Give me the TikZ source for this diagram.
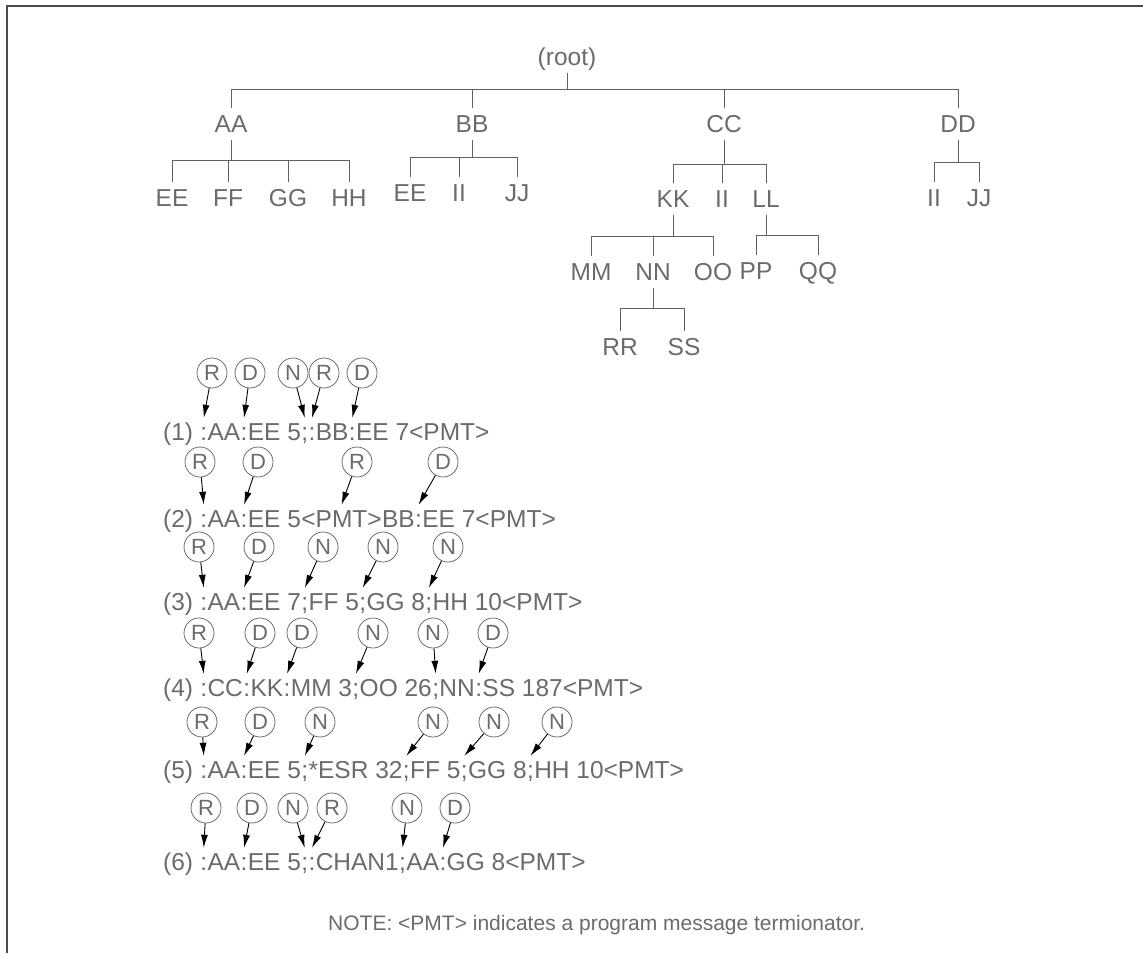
\documentclass[tikz,border=0pt]{standalone}
\usepackage{fontspec}
\setmainfont{Liberation Sans}
\usepackage{tikz}
\usetikzlibrary{positioning,arrows.meta}
\definecolor{inkgray}{gray}{0.42}
\definecolor{linegray}{gray}{0.38}
\definecolor{framegray}{gray}{0.3}

\tikzset{
  leaf/.style={inner xsep=0pt, inner ysep=7pt, text height=17pt, text depth=0pt, text=inkgray, font=\fontsize{24.5}{26}\selectfont},
  txt/.style={inner sep=0pt, text height=22pt, text depth=0pt, text=inkgray, font=\fontsize{24.5}{26}\selectfont},
  ring/.style={circle, draw=inkgray, line width=0.8pt, minimum size=30pt, inner sep=0pt, text=inkgray, font=\fontsize{22}{22}\selectfont},
  tree/.style={draw=linegray, line width=1pt},
  arr/.style={draw=black, line width=0.9pt, -{Latex[length=13pt,width=7pt]}},
}

\begin{document}
\begin{tikzpicture}[x=1pt, y=-1pt]
\useasboundingbox (0,0) rectangle (1143,953);
\draw[framegray, line width=1.2pt] (7,953) -- (7,6) -- (1143,6);

% command tree
\node[leaf] (0) at (567,57) {(root)};
\node[leaf] (1) at (231,124) {AA};
\node[leaf] (2) at (472,124) {BB};
\node[leaf] (3) at (724,124) {CC};
\node[leaf] (4) at (958,124) {DD};
\node[leaf] (5) at (172,198) {EE};
\node[leaf] (6) at (228,198) {FF};
\node[leaf] (7) at (288,198) {GG};
\node[leaf] (8) at (349,198) {HH};
\node[leaf] (9) at (410,193) {EE};
\node[leaf] (10) at (459,193) {II};
\node[leaf] (11) at (517,193) {JJ};
\node[leaf] (12) at (673,199) {KK};
\node[leaf] (13) at (722,199) {II};
\node[leaf] (14) at (766,199) {LL};
\node[leaf] (15) at (934,198) {II};
\node[leaf] (16) at (979,198) {JJ};
\node[leaf] (17) at (591,272) {MM};
\node[leaf] (18) at (653,272) {NN};
\node[leaf] (19) at (713,272) {OO};
\node[leaf] (20) at (756,271) {PP};
\node[leaf] (21) at (818,271) {QQ};
\node[leaf] (22) at (620,347) {RR};
\node[leaf] (23) at (684,347) {SS};

\draw[tree] (0.south) -- (0.south |- 0,89) coordinate (b0);
\draw[tree] (1.north) |- (4.north |- b0) -- (4.north);
\draw[tree] (2.north) -- (2.north |- b0);
\draw[tree] (3.north) -- (3.north |- b0);

\draw[tree] (1.south) -- (1.south |- 0,160) coordinate (b1);
\draw[tree] (5.north) |- (8.north |- b1) -- (8.north);
\draw[tree] (6.north) -- (6.north |- b1);
\draw[tree] (7.north) -- (7.north |- b1);

\draw[tree] (2.south) -- (2.south |- 0,157) coordinate (b2);
\draw[tree] (9.north) |- (11.north |- b2) -- (11.north);
\draw[tree] (10.north) -- (10.north |- b2);

\draw[tree] (3.south) -- (3.south |- 0,164) coordinate (b3);
\draw[tree] (12.north) |- (14.north |- b3) -- (14.north);
\draw[tree] (13.north) -- (13.north |- b3);

\draw[tree] (4.south) -- (4.south |- 0,162) coordinate (b4);
\draw[tree] (15.north) |- (16.north |- b4) -- (16.north);

\draw[tree] (12.south) -- (12.south |- 0,236) coordinate (b12);
\draw[tree] (17.north) |- (19.north |- b12) -- (19.north);
\draw[tree] (18.north) -- (18.north |- b12);

\draw[tree] (14.south) -- (14.south |- 0,235) coordinate (b14);
\draw[tree] (20.north) |- (21.north |- b14) -- (21.north);

\draw[tree] (18.south) -- (18.south |- 0,308) coordinate (b18);
\draw[tree] (22.north) |- (23.north |- b18) -- (23.north);

% (1)
\node[txt, anchor=base west] (r1-0) at (163,440) {(1)\ \mbox{}};
\node[txt, base right=0pt of r1-0] (r1-1) {:};
\node[txt, base right=0pt of r1-1] (r1-2) {AA};
\node[txt, base right=0pt of r1-2] (r1-3) {:};
\node[txt, base right=0pt of r1-3] (r1-4) {EE 5};
\node[txt, base right=0pt of r1-4] (r1-5) {;};
\node[txt, base right=0pt of r1-5] (r1-6) {:};
\node[txt, base right=0pt of r1-6] (r1-7) {BB};
\node[txt, base right=0pt of r1-7] (r1-8) {:};
\node[txt, base right=0pt of r1-8] (r1-9) {EE 7<PMT>};
\node[ring] (c1-1) at (212,373) {R};
\node[ring] (c1-3) at (250,373) {D};
\node[ring] (c1-5) at (293,373) {N};
\node[ring] (c1-6) at (324,373) {R};
\node[ring] (c1-8) at (362,373) {D};
\draw[arr] (c1-1) -- (r1-1.north);
\draw[arr] (c1-3) -- (r1-3.north);
\draw[arr] (c1-5) -- (r1-5.north);
\draw[arr] (c1-6) -- (r1-6.north);
\draw[arr] (c1-8) -- (r1-8.north);

% (2)
\node[txt, anchor=base west] (r2-0) at (163,527) {(2)\ \mbox{}};
\node[txt, base right=0pt of r2-0] (r2-1) {:};
\node[txt, base right=0pt of r2-1] (r2-2) {AA};
\node[txt, base right=0pt of r2-2] (r2-3) {:};
\node[txt, base right=0pt of r2-3] (r2-4) {EE 5};
\node[txt, base right=0pt of r2-4] (r2-5) {<PMT>};
\node[txt, base right=0pt of r2-5] (r2-6) {BB};
\node[txt, base right=0pt of r2-6] (r2-7) {:};
\node[txt, base right=0pt of r2-7] (r2-8) {EE 7<PMT>};
\node[ring] (c2-1) at (200,462) {R};
\node[ring] (c2-3) at (258,462) {D};
\node[ring] (c2-5) at (357,462) {R};
\node[ring] (c2-7) at (443,462) {D};
\draw[arr] (c2-1) -- (r2-1.north);
\draw[arr] (c2-3) -- (r2-3.north);
\draw[arr] (c2-5) -- (r2-5.north);
\draw[arr] (c2-7) -- (r2-7.north);

% (3)
\node[txt, anchor=base west] (r3-0) at (163,610) {(3)\ \mbox{}};
\node[txt, base right=0pt of r3-0] (r3-1) {:};
\node[txt, base right=0pt of r3-1] (r3-2) {AA};
\node[txt, base right=0pt of r3-2] (r3-3) {:};
\node[txt, base right=0pt of r3-3] (r3-4) {EE 7};
\node[txt, base right=0pt of r3-4] (r3-5) {;};
\node[txt, base right=0pt of r3-5] (r3-6) {FF 5};
\node[txt, base right=0pt of r3-6] (r3-7) {;};
\node[txt, base right=0pt of r3-7] (r3-8) {GG 8};
\node[txt, base right=0pt of r3-8] (r3-9) {;};
\node[txt, base right=0pt of r3-9] (r3-10) {HH 10<PMT>};
\node[ring] (c3-1) at (199,547) {R};
\node[ring] (c3-3) at (259,547) {D};
\node[ring] (c3-5) at (323,547) {N};
\node[ring] (c3-7) at (383,547) {N};
\node[ring] (c3-9) at (448,547) {N};
\draw[arr] (c3-1) -- (r3-1.north);
\draw[arr] (c3-3) -- (r3-3.north);
\draw[arr] (c3-5) -- (r3-5.north);
\draw[arr] (c3-7) -- (r3-7.north);
\draw[arr] (c3-9) -- (r3-9.north);

% (4)
\node[txt, anchor=base west] (r4-0) at (163,696) {(4)\ \mbox{}};
\node[txt, base right=0pt of r4-0] (r4-1) {:};
\node[txt, base right=0pt of r4-1] (r4-2) {CC};
\node[txt, base right=0pt of r4-2] (r4-3) {:};
\node[txt, base right=0pt of r4-3] (r4-4) {KK};
\node[txt, base right=0pt of r4-4] (r4-5) {:};
\node[txt, base right=0pt of r4-5] (r4-6) {MM 3};
\node[txt, base right=0pt of r4-6] (r4-7) {;};
\node[txt, base right=0pt of r4-7] (r4-8) {OO 26};
\node[txt, base right=0pt of r4-8] (r4-9) {;};
\node[txt, base right=0pt of r4-9] (r4-10) {NN};
\node[txt, base right=0pt of r4-10] (r4-11) {:};
\node[txt, base right=0pt of r4-11] (r4-12) {SS 187<PMT>};
\node[ring] (c4-1) at (199,633) {R};
\node[ring] (c4-3) at (260,633) {D};
\node[ring] (c4-5) at (302,633) {D};
\node[ring] (c4-7) at (373,633) {N};
\node[ring] (c4-9) at (433,633) {N};
\node[ring] (c4-11) at (493,633) {D};
\draw[arr] (c4-1) -- (r4-1.north);
\draw[arr] (c4-3) -- (r4-3.north);
\draw[arr] (c4-5) -- (r4-5.north);
\draw[arr] (c4-7) -- (r4-7.north);
\draw[arr] (c4-9) -- (r4-9.north);
\draw[arr] (c4-11) -- (r4-11.north);

% (5)
\node[txt, anchor=base west] (r5-0) at (163,778) {(5)\ \mbox{}};
\node[txt, base right=0pt of r5-0] (r5-1) {:};
\node[txt, base right=0pt of r5-1] (r5-2) {AA};
\node[txt, base right=0pt of r5-2] (r5-3) {:};
\node[txt, base right=0pt of r5-3] (r5-4) {EE 5};
\node[txt, base right=0pt of r5-4] (r5-5) {;};
\node[txt, base right=0pt of r5-5] (r5-6) {*ESR 32};
\node[txt, base right=0pt of r5-6] (r5-7) {;};
\node[txt, base right=0pt of r5-7] (r5-8) {FF 5};
\node[txt, base right=0pt of r5-8] (r5-9) {;};
\node[txt, base right=0pt of r5-9] (r5-10) {GG 8};
\node[txt, base right=0pt of r5-10] (r5-11) {;};
\node[txt, base right=0pt of r5-11] (r5-12) {HH 10<PMT>};
\node[ring] (c5-1) at (202,722) {R};
\node[ring] (c5-3) at (260,722) {D};
\node[ring] (c5-5) at (320,722) {N};
\node[ring] (c5-7) at (433,722) {N};
\node[ring] (c5-9) at (494,722) {N};
\node[ring] (c5-11) at (557,722) {N};
\draw[arr] (c5-1) -- (r5-1.north);
\draw[arr] (c5-3) -- (r5-3.north);
\draw[arr] (c5-5) -- (r5-5.north);
\draw[arr] (c5-7) -- (r5-7.north);
\draw[arr] (c5-9) -- (r5-9.north);
\draw[arr] (c5-11) -- (r5-11.north);

% (6)
\node[txt, anchor=base west] (r6-0) at (163,870) {(6)\ \mbox{}};
\node[txt, base right=0pt of r6-0] (r6-1) {:};
\node[txt, base right=0pt of r6-1] (r6-2) {AA};
\node[txt, base right=0pt of r6-2] (r6-3) {:};
\node[txt, base right=0pt of r6-3] (r6-4) {EE 5};
\node[txt, base right=0pt of r6-4] (r6-5) {;};
\node[txt, base right=0pt of r6-5] (r6-6) {:};
\node[txt, base right=0pt of r6-6] (r6-7) {CHAN1};
\node[txt, base right=0pt of r6-7] (r6-8) {;};
\node[txt, base right=0pt of r6-8] (r6-9) {AA};
\node[txt, base right=0pt of r6-9] (r6-10) {:};
\node[txt, base right=0pt of r6-10] (r6-11) {GG 8<PMT>};
\node[ring] (c6-1) at (206,808) {R};
\node[ring] (c6-3) at (252,808) {D};
\node[ring] (c6-5) at (293,808) {N};
\node[ring] (c6-6) at (332,808) {R};
\node[ring] (c6-8) at (407,808) {N};
\node[ring] (c6-10) at (455,808) {D};
\draw[arr] (c6-1) -- (r6-1.north);
\draw[arr] (c6-3) -- (r6-3.north);
\draw[arr] (c6-5) -- (r6-5.north);
\draw[arr] (c6-6) -- (r6-6.north);
\draw[arr] (c6-8) -- (r6-8.north);
\draw[arr] (c6-10) -- (r6-10.north);

\node[txt, anchor=base west, font=\fontsize{21}{23}\selectfont] (note) at (328,930) {NOTE: <PMT> indicates a program message termionator.};
\end{tikzpicture}
\end{document}
